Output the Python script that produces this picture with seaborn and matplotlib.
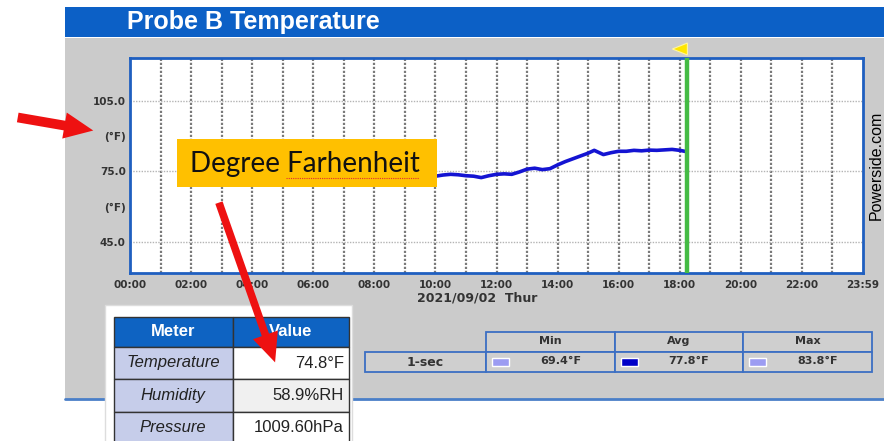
import numpy as np
import pandas as pd
import matplotlib
matplotlib.use("Agg")
import matplotlib.pyplot as plt
from matplotlib.patches import Rectangle, Polygon, FancyArrowPatch
from matplotlib.lines import Line2D
import seaborn as sns

# ---- data ----
times = ["10:00", "10:15", "10:30", "10:45", "11:00", "11:15", "11:30", "11:45",
         "12:00", "12:15", "12:30", "12:45", "13:00", "13:15", "13:30", "13:45",
         "14:00", "14:15", "14:30", "14:45", "15:00", "15:12", "15:30", "15:45",
         "16:00", "16:15", "16:30", "16:45", "17:00", "17:15", "17:30", "17:45",
         "18:00", "18:12"]
temps_f = [73.0, 73.5, 73.8, 73.6, 73.2, 73.0, 72.4, 73.2,
           73.8, 74.0, 73.8, 74.8, 76.0, 76.4, 75.8, 76.2,
           77.8, 79.2, 80.4, 81.6, 82.8, 84.0, 82.2, 83.0,
           83.6, 83.6, 84.0, 83.8, 84.1, 84.0, 84.2, 84.4,
           84.0, 83.5]
cursor_time = "18:15"

x_tick_hours = [0, 2, 4, 6, 8, 10, 12, 14, 16, 18, 20, 22, 23 + 59 / 60]
x_tick_labels = ["00:00", "02:00", "04:00", "06:00", "08:00", "10:00", "12:00",
                 "14:00", "16:00", "18:00", "20:00", "22:00", "23:59"]
y_ticks = [45, 60, 75, 90, 105]
y_tick_labels = ["45.0", "(°F)", "75.0", "(°F)", "105.0"]
grid_values = [45, 75, 105]

meter_names = ["Temperature", "Humidity", "Pressure"]
meter_values = ["74.8°F", "58.9%RH", "1009.60hPa"]
stat_names = ["Min", "Avg", "Max"]
stat_values = ["69.4°F", "77.8°F", "83.8°F"]
stat_colors = ["#9c9cf2", "#0000c8", "#9c9cf2"]


def to_hours(s):
    h, m = s.split(":")
    return int(h) + int(m) / 60


df = pd.DataFrame({"hour": [to_hours(t) for t in times], "temp": temps_f})

W, H = 884, 441
sns.set_style("white")
plt.rcParams["font.family"] = ["DejaVu Sans"]
fig = plt.figure(figsize=(W / 100, H / 100), dpi=100)
fig.patch.set_facecolor("white")


def box(x0, y0, x1, y1, **kw):
    r = Rectangle((x0 / W, 1 - y1 / H), (x1 - x0) / W, (y1 - y0) / H,
                  transform=fig.transFigure, **kw)
    fig.add_artist(r)
    return r


def txt(x, y, s, **kw):
    return fig.text(x / W, 1 - y / H, s, **kw)


# screenshot background
box(65, 38, 884, 399, facecolor="#cbcbcb", edgecolor="none", zorder=-5)
box(65, 7, 884, 37, facecolor="#0c60c6", edgecolor="none", zorder=-5)
fig.add_artist(Line2D([65 / W, 1], [1 - 399 / H] * 2, transform=fig.transFigure,
                      color="#4a7fc8", lw=2, zorder=-4))
txt(127, 22, "Probe B Temperature", color="white", fontsize=18, fontweight="bold",
    family="Liberation Sans", va="center", ha="left")

# main chart
ax = fig.add_axes([130 / W, 1 - 273 / H, (863 - 130) / W, (273 - 58) / H])
ax.set_facecolor("white")
for h in range(1, 24):
    ax.axvline(h, color="#7a7a7a", lw=1.6, ls=(0, (1, 0.8)), zorder=1)
for v in grid_values:
    ax.axhline(v, color="#b4b4b4", lw=1, ls=(0, (1, 1)), zorder=1)
sns.lineplot(data=df, x="hour", y="temp", ax=ax, color="#1414d2", lw=2.6, zorder=3)
ax.axvline(to_hours(cursor_time), color="#44bb44", lw=3.2, zorder=4)
ax.set_xlim(0, 24)
ax.set_ylim(31.8, 123.3)
ax.set_xticks(x_tick_hours, x_tick_labels)
ax.set_yticks(y_ticks, y_tick_labels)
ax.tick_params(length=0, labelsize=7.5, labelcolor="#333333", pad=5)
for lab in ax.get_xticklabels() + ax.get_yticklabels():
    lab.set_fontweight("bold")
ax.tick_params(axis="y", pad=3)
ax.set_xlabel("")
ax.set_ylabel("")
for sp in ax.spines.values():
    sp.set_color("#1f5fc0")
    sp.set_linewidth(2)

txt(477, 298, "2021/09/02  Thur", fontsize=9, fontweight="bold", color="#333333",
    ha="center", va="center")
txt(876, 165, "Powerside.com", fontsize=11.5, family="Liberation Sans", color="black",
    rotation=90, ha="center", va="center")

# cursor flag
cx = 130 + (863 - 130) * to_hours(cursor_time) / 24
fig.add_artist(Polygon([[(cx - 15) / W, 1 - 49 / H], [cx / W, 1 - 43 / H], [cx / W, 1 - 55 / H]],
                       closed=True, transform=fig.transFigure, facecolor="#ffe600",
                       edgecolor="#fff6a0", lw=0.8, zorder=2))

# callout
box(177, 139, 437, 187, facecolor="#ffc000", edgecolor="none", zorder=5)
txt(190, 164, "Degree Farhenheit", fontsize=20, family="Lato", color="#111111",
    ha="left", va="center", zorder=6)
fig.add_artist(Line2D([286 / W, 419 / W], [1 - 178 / H] * 2, transform=fig.transFigure,
                      color="#e03030", lw=0.8, ls=(0, (1, 1)), zorder=6))

# meter table
box(105, 305, 352, 445, facecolor="white", edgecolor="#dddddd", lw=1, zorder=6)
box(114, 317, 233, 347, facecolor="#0e63c2", edgecolor="#333333", lw=1, zorder=7)
box(233, 317, 349, 347, facecolor="#0e63c2", edgecolor="#333333", lw=1, zorder=7)
txt(173, 332, "Meter", color="white", fontsize=12, fontweight="bold",
    family="Liberation Sans", ha="center", va="center", zorder=8)
txt(291, 332, "Value", color="white", fontsize=12, fontweight="bold",
    family="Liberation Sans", ha="center", va="center", zorder=8)
row_edges = [347, 379, 412, 444]
right_fill = ["white", "#f0f0f0", "white"]
for i, (name, val) in enumerate(zip(meter_names, meter_values)):
    y0, y1 = row_edges[i], row_edges[i + 1]
    box(114, y0, 233, y1, facecolor="#c6cdea", edgecolor="#333333", lw=1, zorder=7)
    box(233, y0, 349, y1, facecolor=right_fill[i], edgecolor="#333333", lw=1, zorder=7)
    txt(173, (y0 + y1) / 2, name, fontsize=12, style="italic", family="Liberation Sans",
        color="#222222", ha="center", va="center", zorder=8)
    txt(344, (y0 + y1) / 2, val, fontsize=12, family="Liberation Sans",
        color="#222222", ha="right", va="center", zorder=8)

# stats table
edge = "#3c6fc3"
box(365, 352, 486, 372, facecolor="#cfcfcf", edgecolor=edge, lw=1.3, zorder=2)
txt(425, 362, "1-sec", fontsize=9, fontweight="bold", color="#333333",
    ha="center", va="center", zorder=3)
col_edges = [486, 615, 743, 872]
for i, (name, val, c) in enumerate(zip(stat_names, stat_values, stat_colors)):
    x0, x1 = col_edges[i], col_edges[i + 1]
    box(x0, 332, x1, 352, facecolor="#cfcfcf", edgecolor=edge, lw=1.3, zorder=2)
    box(x0, 352, x1, 372, facecolor="#cfcfcf", edgecolor=edge, lw=1.3, zorder=2)
    txt((x0 + x1) / 2, 341, name, fontsize=8, fontweight="bold", color="#333333",
        ha="center", va="center", zorder=3)
    box(x0 + 6, 358, x0 + 23, 366, facecolor=c, edgecolor="white", lw=1, zorder=3)
    txt((x0 + x1) / 2 + 10, 361, val, fontsize=8, fontweight="bold", color="#333333",
        ha="center", va="center", zorder=3)

# red arrows
for (xa, ya), (xb, yb), tw in [((15, 117), (96, 131), 7), ((218, 200), (276, 365), 5.5)]:
    fig.add_artist(FancyArrowPatch((xa / W, 1 - ya / H), (xb / W, 1 - yb / H),
                                   transform=fig.transFigure,
                                   arrowstyle=f"simple,head_length=21,head_width=19,tail_width={tw}",
                                   mutation_scale=1, color="#ee1111", lw=0, zorder=9))

fig.savefig("out.png", dpi=100)
